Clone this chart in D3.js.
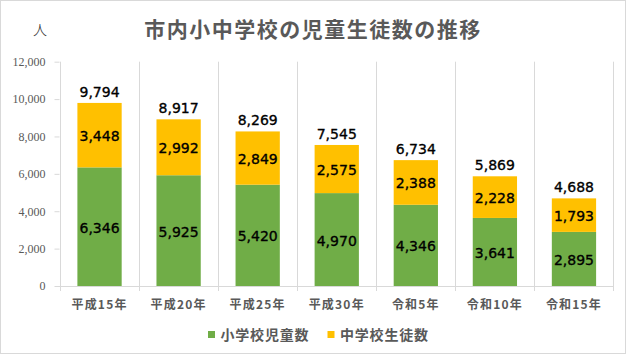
<!DOCTYPE html>
<html><head><meta charset="utf-8">
<script src="https://cdn.jsdelivr.net/npm/d3@7"></script>
<style>html,body{margin:0;padding:0;background:#fff;}svg{display:block;}</style>
</head><body>
<svg id="c" width="629" height="355"></svg>
<script>
const categories = ["平成15年","平成20年","平成25年","平成30年","令和5年","令和10年","令和15年"];
const elementary = [6346,5925,5420,4970,4346,3641,2895];
const junior = [3448,2992,2849,2575,2388,2228,1793];
const totals = [9794,8917,8269,7545,6734,5869,4688];
const yTicks = [0,2000,4000,6000,8000,10000,12000];
const seriesNames = ["小学校児童数","中学校生徒数"];
const colors = ["#70AD47","#FFC000"];

const svg = d3.select("#c");
const fmt = d3.format(",");
const jp = "'Noto Sans CJK JP','Noto Sans',sans-serif";

svg.append("rect").attr("x",0.5).attr("y",0.5).attr("width",625).attr("height",353)
  .attr("fill","#fff").attr("stroke","#d9d9d9").attr("stroke-width",1);

const x = d3.scaleBand().domain(categories).range([60,613.5]).paddingInner(0.44).paddingOuter(0.22);
const y = d3.scaleLinear().domain([0,12000]).range([286,61.7]);
const step = x.step();

// vertical gridlines at category boundaries
const bounds = [x(categories[0]) - step*0.22].concat(categories.map(c => x(c) + x.bandwidth() + step*0.22));
svg.append("g").selectAll("line").data(bounds).join("line")
  .attr("x1",d=>Math.round(d)+0.5).attr("x2",d=>Math.round(d)+0.5)
  .attr("y1",y(12000)).attr("y2",291)
  .attr("stroke","#d9d9d9").attr("stroke-width",1);
// baseline
svg.append("line").attr("x1",55).attr("x2",Math.round(bounds[bounds.length-1])+0.5)
  .attr("y1",Math.round(y(0))+0.5).attr("y2",Math.round(y(0))+0.5)
  .attr("stroke","#d9d9d9");

// y axis
const yAxis = d3.axisLeft(y).tickValues(yTicks).tickFormat(fmt).tickSize(5).tickPadding(9);
const ya = svg.append("g").attr("transform","translate(59.5,0)").call(yAxis);
ya.select(".domain").remove();
ya.selectAll(".tick line").attr("stroke","#d9d9d9");
ya.selectAll(".tick text").attr("fill","#595959").style("font-family","'Liberation Serif',serif").style("font-size","12px");

// x labels
const xAxis = d3.axisBottom(x).tickSize(0).tickPadding(14);
const xa = svg.append("g").attr("transform","translate(0,286)").call(xAxis);
xa.select(".domain").remove();
xa.selectAll(".tick text").attr("fill","#595959").style("font-family",jp)
  .style("font-size","12px").style("font-weight","bold").style("letter-spacing","1.2px");

// stacked bars
const rows = categories.map((c,i)=>({cat:c, a:elementary[i], b:junior[i]}));
const stack = d3.stack().keys(["a","b"])(rows);
const g = svg.append("g");
stack.forEach((layer,li)=>{
  g.append("g").selectAll("rect").data(layer).join("rect")
    .attr("x",d=>x(d.data.cat)).attr("width",x.bandwidth())
    .attr("y",d=>y(d[1])).attr("height",d=>y(d[0])-y(d[1]))
    .attr("fill",colors[li]);
  g.append("g").selectAll("text").data(layer).join("text")
    .attr("x",d=>x(d.data.cat)+x.bandwidth()/2)
    .attr("y",d=>(y(d[0])+y(d[1]))/2 + 6)
    .attr("text-anchor","middle")
    .style("font-family","'DejaVu Sans',sans-serif").style("font-size","14px")
    .attr("fill","#000").attr("stroke","#000").attr("stroke-width",0.35)
    .text(d=>fmt(d[1]-d[0]));
});
// totals
g.append("g").selectAll("text").data(categories).join("text")
  .attr("x",c=>x(c)+x.bandwidth()/2)
  .attr("y",(c,i)=>y(totals[i]) - 6)
  .attr("text-anchor","middle")
  .style("font-family","'DejaVu Sans',sans-serif").style("font-size","14px")
  .attr("fill","#000").attr("stroke","#000").attr("stroke-width",0.35)
  .text((c,i)=>fmt(totals[i]));

// title
svg.append("text").attr("x",313).attr("y",37).attr("text-anchor","middle")
  .style("font-family",jp).style("font-size","21px").style("font-weight","bold")
  .style("letter-spacing","1.5px").attr("fill","#595959")
  .text("市内小中学校の児童生徒数の推移");
// unit
svg.append("text").attr("x",40).attr("y",35).attr("text-anchor","middle")
  .style("font-family",jp).style("font-size","14px").style("font-weight","300").attr("fill","#333")
  .text("人");

// legend
const legX = [208, 327.5];
const lg = svg.append("g");
seriesNames.forEach((n,i)=>{
  lg.append("rect").attr("x",legX[i]).attr("y",331).attr("width",7).attr("height",7).attr("fill",colors[i]);
  lg.append("text").attr("x",legX[i]+12.5).attr("y",339.5)
    .style("font-family",jp).style("font-size","14px").style("font-weight","bold")
    .style("letter-spacing","0.8px").attr("fill","#595959").text(n);
});
</script>
</body></html>
